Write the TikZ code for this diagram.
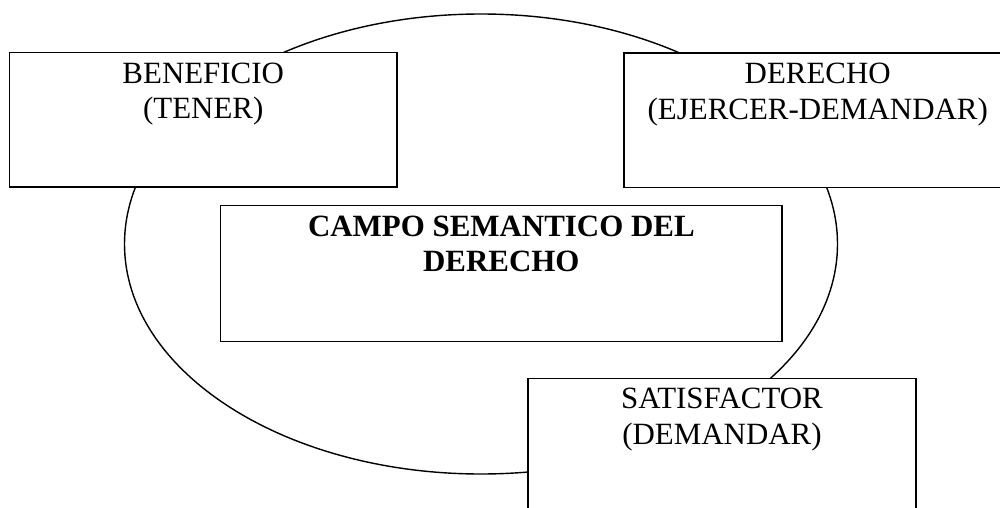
\documentclass[tikz,border=0pt]{standalone}
\usepackage{fontspec}
\setmainfont{Liberation Serif}
\usepackage{tikz}
\usetikzlibrary{positioning}
\usetikzlibrary{shapes.geometric}
\tikzset{caja/.style = {draw, fill = white, line width = 0.8pt, inner sep = 0, minimum width = 7.75cm, minimum height = 2.69cm}}
\tikzset{rotulo/.style = {align = center, inner sep = 0, font = \fontsize{17.6}{20.2}\selectfont}}

\begin{document}
\begin{tikzpicture}
        \useasboundingbox (0, 0) rectangle (20, -10.16);

        \node [draw, ellipse, line width = 0.8pt, minimum width = 14.26cm, minimum height = 9.2cm, inner sep = 0] (campo) at (9.62, -4.88) {};

        \node [caja] (beneficio) at (4.065, -2.395) {};
        \node [caja] (derecho) at (16.355, -2.405) {};
        \node [caja, minimum width = 11.226cm, minimum height = 2.72cm] (semantico) at (10.027, -5.474) {};
        \node [caja, minimum width = 7.76cm] (satisfactor) at (14.44, -8.91) {};

        \node [rotulo, below = 6pt of beneficio.north] (tbeneficio) {BENEFICIO\\(TENER)};
        \node [rotulo, below = 6pt of derecho.north] (tderecho) {DERECHO\\(EJERCER-DEMANDAR)};
        \node [rotulo, below = 6pt of semantico.north, font = \fontsize{17.6}{20.2}\selectfont\bfseries] (tsemantico) {CAMPO SEMANTICO DEL\\DERECHO};
        \node [rotulo, below = 6pt of satisfactor.north] (tsatisfactor) {SATISFACTOR\\(DEMANDAR)};
      \end{tikzpicture}
\end{document}
